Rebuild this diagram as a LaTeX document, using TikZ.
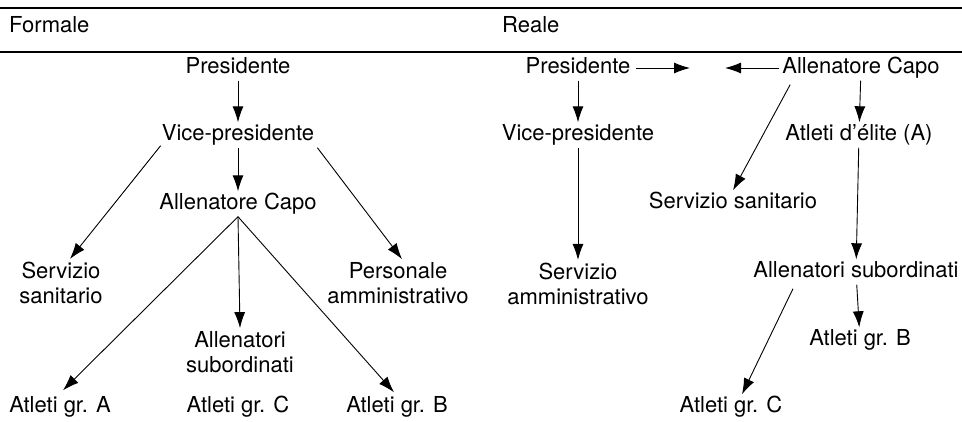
\documentclass[tikz,border=0pt]{standalone}
\usepackage{fontspec}
\setmainfont{TeX Gyre Heros}
\usepackage{tikz}
\usetikzlibrary{arrows.meta, positioning, calc}

\begin{document}
\begin{tikzpicture}[
    x=1pt, y=-1pt,
    font=\fontsize{22}{25}\selectfont,
    lbl/.style={
        align=center,
        inner sep=3pt,
        text height=15pt,
        text depth=4pt
    },
    lbltwo/.style={
        align=center,
        inner sep=3pt
    },
    arrow/.style={
        -{Latex[length=16pt, width=11pt]},
        line width=0.9pt
    },
    rule/.style={
        line width=1.1pt
    }
]
\useasboundingbox (0,0) rectangle (962,421);

% =========================
% Intestazione
% =========================
\draw[rule] (0,8) -- (962,8);
\draw[rule] (0,52) -- (962,52);

\node[lbl, anchor=west] (formale) at (6,27) {Formale};
\node[lbl, anchor=west] (reale) at (499,27) {Reale};

% =========================
% Organigramma formale
% =========================
\node[lbl] (presF) at (238,68) {Presidente};
\node[lbl] (viceF) at (238,135) {Vice-presidente};
\node[lbl] (capoF) at (238,204) {Allenatore Capo};

\node[lbltwo] (servF) at (61,283) {Servizio\\sanitario};
\node[lbltwo] (persF) at (398,283) {Personale\\amministrativo};
\node[lbltwo] (subF) at (240,352) {Allenatori\\subordinati};

\node[lbl] (atlAF) at (60,407) {Atleti gr. A};
\node[lbl] (atlCF) at (238,407) {Atleti gr. C};
\node[lbl] (atlBF) at (397,407) {Atleti gr. B};

\draw[arrow] (presF) -- (viceF);
\draw[arrow] (viceF) -- (capoF);

\draw[arrow]
    ($(viceF.south west)+(2,-2)$) -- ($(servF.north)+(9,0)$);
\draw[arrow]
    ($(viceF.south east)+(0,0)$) -- ($(persF.north)+(4,0)$);

% ventaglio dall'Allenatore Capo
\draw[arrow] (capoF.south) -- ($(atlAF.north)+(3,-4)$);
\draw[arrow] (capoF.south) -- (subF.north);
\draw[arrow] (capoF.south) -- ($(atlBF.north)+(-3,-2)$);

% =========================
% Organigramma reale
% =========================
\node[lbl] (presR) at (578,68) {Presidente};
\node[lbl] (capoR) at (861,68) {Allenatore Capo};
\node[lbl] (viceR) at (578,135) {Vice-presidente};
\node[lbl] (eliteR) at (859,135) {Atleti d’élite (A)};
\node[lbl] (sanR) at (733,203) {Servizio sanitario};
\node[lbltwo] (ammR) at (578,284) {Servizio\\amministrativo};
\node[lbl] (subR) at (856,272) {Allenatori subordinati};
\node[lbl] (atlBR) at (860,340) {Atleti gr. B};
\node[lbl] (atlCR) at (731,407) {Atleti gr. C};

\coordinate (meetL) at (690,68);
\coordinate (meetR) at (725,68);

\draw[arrow] ($(presR.east)+(2,0)$) -- (meetL);
\draw[arrow] (capoR.west) -- (meetR);

\draw[arrow] (presR) -- (viceR);
\draw[arrow] (viceR) -- (ammR);

\draw[arrow] (capoR) -- (eliteR);
\draw[arrow] ($(capoR.south west)+(11,4)$) -- (sanR.north);

\draw[arrow] (eliteR) -- (subR);
\draw[arrow] (subR) -- (atlBR);
\draw[arrow] ($(subR.south)+(-63,4)$) -- ($(atlCR.north)+(11,0)$);

\end{tikzpicture}
\end{document}
